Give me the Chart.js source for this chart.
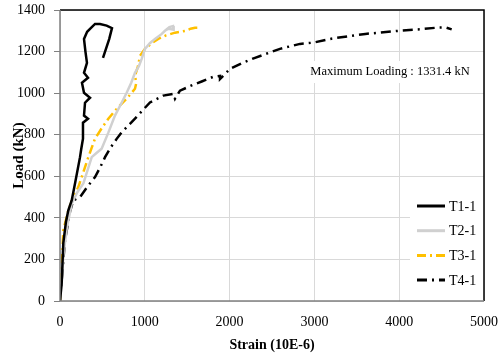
<!DOCTYPE html>
<html><head><meta charset="utf-8">
<script src="https://cdn.jsdelivr.net/npm/chart.js@4/dist/chart.umd.min.js"></script>
<style>html,body{margin:0;padding:0;background:#fff}#wrap{width:500px;height:354px}</style>
</head><body><div id="wrap"><canvas id="c" width="500" height="354"></canvas></div>
<script>
const seriesNames = ["T1-1","T2-1","T3-1","T4-1"];
const xTicks = [0,1000,2000,3000,4000,5000];
const yTicks = [0,200,400,600,800,1000,1200,1400];
const annotationText = "Maximum Loading : 1331.4 kN";

const t1Strain = [0,20,39,70,98,138,177,236,250,271,271,330,283,295,354,283,259,330,283,318,300,283,320,354,413,472,550,613,580,507];
const t1Load   = [0,86,278,380,436,484,565,692,730,781,858,877,892,954,978,1002,1050,1074,1098,1146,1200,1261,1295,1309,1333,1333,1325,1313,1260,1170];

const t2Strain = [0,20,40,80,140,200,275,374,430,491,570,648,727,786,840,884,930,963,1002,1060,1120,1200,1238,1290,1333,1340,1280,1238];
const t2Load   = [0,100,220,350,470,520,565,692,712,733,810,892,954,1002,1050,1098,1130,1165,1213,1240,1261,1285,1300,1318,1323,1305,1310,1300];

const t3Strain = [0,20,39,98,157,216,295,334,413,490,570,680,786,884,900,884,920,943,1002,1080,1159,1250,1356,1474,1540,1592,1651];
const t3Load   = [0,150,340,436,500,548,644,692,781,830,877,930,973,1021,1050,1083,1130,1179,1213,1240,1261,1278,1291,1299,1310,1315,1315];

const t4Strain = [0,30,59,118,157,236,334,413,470,531,600,668,727,884,980,1061,1218,1336,1356,1415,1568,1671,1804,1887,1887,2005,2158,2300,2594,2830,2987,3200,3420,3600,3774,4000,4245,4442,4550,4619];
const t4Load   = [0,150,292,430,484,500,556,596,640,692,740,780,812,877,920,955,988,997,973,1012,1040,1056,1078,1083,1068,1117,1147,1170,1213,1237,1243,1262,1275,1285,1291,1300,1307,1315,1316,1307];

function pts(xs, ys){ return xs.map((x,i)=>({x:x,y:ys[i]})); }

const styles = [
  {color:'#000000', width:2.5, dash:[]},
  {color:'#d0d0d0', width:2.5, dash:[]},
  {color:'#ffc000', width:2.5, dash:[9,4,2,4]},
  {color:'#000000', width:2.5, dash:[10,5,2,5]}
];
const allData = [pts(t1Strain,t1Load), pts(t2Strain,t2Load), pts(t3Strain,t3Load), pts(t4Strain,t4Load)];

const FONT = "'Liberation Serif','Times New Roman',serif";

const framePlugin = {
  id:'frame',
  afterDatasetsDraw(chart){
    const {ctx, chartArea:a} = chart;
    ctx.save();
    ctx.fillStyle='#fff';
    ctx.font = "12.5px " + FONT;
    const tw = ctx.measureText(annotationText).width;
    const cx = 390, cy = 72;
    ctx.fillRect(cx - tw/2 - 6, cy - 11, tw + 12, 22);
    ctx.fillStyle='#000';
    ctx.textAlign='center'; ctx.textBaseline='middle';
    ctx.fillText(annotationText, cx, cy);
    const lx = 410, ly = 192;
    ctx.fillStyle='#fff';
    ctx.fillRect(lx, ly, a.right - lx, a.bottom - ly);
    seriesNames.forEach((n,i)=>{
      const y = 206 + i*24.7;
      const s = styles[i];
      ctx.strokeStyle = s.color; ctx.lineWidth = 3;
      ctx.setLineDash(s.dash);
      ctx.beginPath(); ctx.moveTo(417,y); ctx.lineTo(445,y); ctx.stroke();
      ctx.setLineDash([]);
      ctx.fillStyle='#000'; ctx.textAlign='left'; ctx.textBaseline='middle';
      ctx.font = "14px " + FONT;
      ctx.fillText(n, 449, y+1);
    });
    ctx.setLineDash([]);
    ctx.strokeStyle='#000'; ctx.lineWidth=1.5;
    ctx.beginPath(); ctx.moveTo(a.left, a.top); ctx.lineTo(a.right, a.top); ctx.lineTo(a.right, a.bottom); ctx.stroke();
    ctx.strokeStyle='#808080'; ctx.lineWidth=1.5;
    ctx.beginPath(); ctx.moveTo(a.left, a.top); ctx.lineTo(a.left, a.bottom); ctx.lineTo(a.right, a.bottom); ctx.stroke();
    ctx.restore();
  }
};

new Chart(document.getElementById('c'), {
  type:'scatter',
  data:{ datasets: allData.map((d,i)=>({
    label: seriesNames[i], data: d, showLine:true, pointRadius:0,
    borderColor: styles[i].color, borderWidth: styles[i].width, borderDash: styles[i].dash,
    fill:false, tension:0
  }))},
  options:{
    responsive:false, animation:false,
    layout:{padding:{left:10,right:16,top:10,bottom:0}},
    plugins:{legend:{display:false}, tooltip:{enabled:false}},
    scales:{
      x:{type:'linear', min:0, max:5000,
        afterBuildTicks(s){ s.ticks = xTicks.map(v=>({value:v})); },
        afterFit(s){ s.height = 53; s.paddingLeft = 0; s.paddingRight = 0; },
        grid:{color:'#d9d9d9', lineWidth:1, drawTicks:false},
        border:{display:false},
        ticks:{color:'#000', padding:13, font:{family:FONT, size:14}, maxRotation:0, callback:v=>String(v)},
        title:{display:true, text:'Strain (10E-6)', color:'#000', font:{family:FONT, size:14, weight:'bold'}, padding:{top:2,bottom:0}}
      },
      y:{type:'linear', min:0, max:1400,
        afterBuildTicks(s){ s.ticks = yTicks.map(v=>({value:v})); },
        afterFit(s){ s.width = 50; s.paddingTop = 0; s.paddingBottom = 0; },
        grid:{color:'#d9d9d9', lineWidth:1, tickColor:'#808080', tickLength:6},
        border:{display:false},
        ticks:{color:'#000', padding:9, font:{family:FONT, size:14}, callback:v=>String(v)},
        title:{display:true, text:'Load (kN)', color:'#000', font:{family:FONT, size:15, weight:'bold'}, padding:{top:0,bottom:0}}
      }
    }
  },
  plugins:[framePlugin]
});
</script>
</body></html>
